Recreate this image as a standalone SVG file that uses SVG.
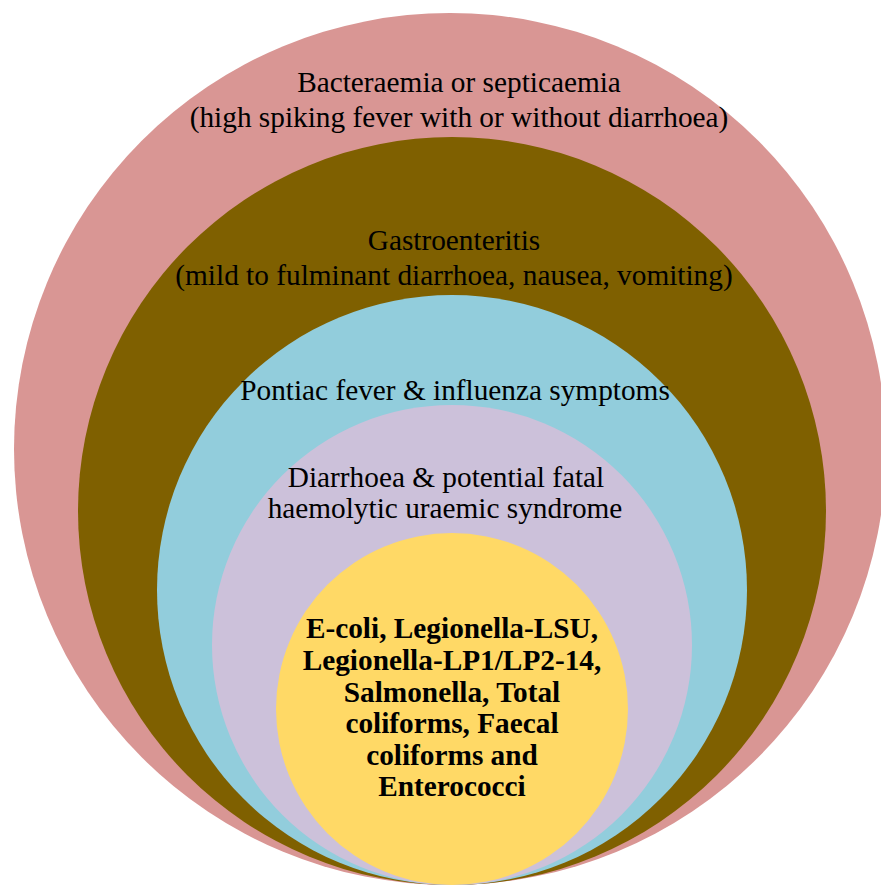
<svg xmlns="http://www.w3.org/2000/svg" width="881" height="885" viewBox="0 0 881 885">
<style>
.t{font-family:"Liberation Serif","Times New Roman",serif;font-size:29.3px;fill:#000;text-anchor:middle}
.b{font-family:"Liberation Serif","Times New Roman",serif;font-size:29.3px;font-weight:bold;fill:#000;text-anchor:middle}
</style>
<rect width="881" height="885" fill="#fff"/>
<g id="bacteraemia">
<circle cx="450" cy="449" r="436" fill="#D99694"/>
<text class="t" x="459" y="92">Bacteraemia or septicaemia</text>
<text class="t" x="459" y="127">(high spiking fever with or without diarrhoea)</text>
</g>
<g id="gastroenteritis">
<circle cx="452" cy="511" r="374" fill="#7F6000"/>
<text class="t" x="454" y="250">Gastroenteritis</text>
<text class="t" x="454" y="285">(mild to fulminant diarrhoea, nausea, vomiting)</text>
</g>
<g id="pontiac">
<circle cx="452" cy="590" r="295" fill="#92CDDC"/>
<text class="t" x="455" y="400">Pontiac fever &amp; influenza symptoms</text>
</g>
<g id="diarrhoea">
<circle cx="452" cy="645" r="240" fill="#CCC1DA"/>
<text class="t" x="446" y="487">Diarrhoea &amp; potential fatal</text>
<text class="t" x="445" y="518">haemolytic uraemic syndrome</text>
</g>
<g id="pathogens">
<circle cx="452" cy="709" r="176" fill="#FFD966"/>
<text class="b" x="452" y="638">E-coli, Legionella-LSU,</text>
<text class="b" x="452" y="670">Legionella-LP1/LP2-14,</text>
<text class="b" x="452" y="702">Salmonella, Total</text>
<text class="b" x="452" y="733">coliforms, Faecal</text>
<text class="b" x="452" y="765">coliforms and</text>
<text class="b" x="452" y="796">Enterococci</text>
</g>
<g id="connectors"/>
</svg>
